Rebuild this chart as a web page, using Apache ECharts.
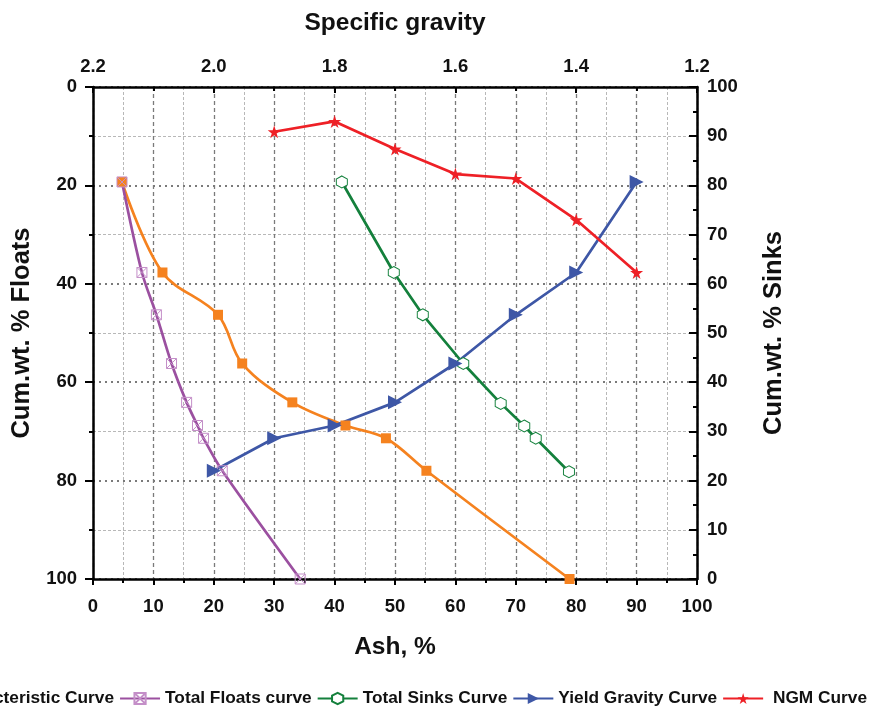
<!DOCTYPE html>
<html>
<head>
<meta charset="utf-8">
<script src="https://cdn.jsdelivr.net/npm/echarts@6/dist/echarts.min.js"></script>
<style>
  html, body { margin: 0; padding: 0; background: #fff; }
  #chart { width: 871px; height: 708px; }
</style>
</head>
<body>
<div id="chart"></div>
<script>
// 灰分 - 累计产率 数据
var charAsh = [4.8, 11.5, 20.7, 24.7, 33.0, 41.8, 48.5, 55.2, 78.9];
var charFloats = [19.3, 37.7, 46.3, 56.2, 64.1, 68.8, 71.4, 78.0, 100];

var floatsAsh = [4.8, 8.1, 10.5, 13.0, 15.5, 17.3, 18.3, 21.4, 34.3];
var floatsWt = [19.3, 37.7, 46.3, 56.2, 64.1, 68.8, 71.4, 78.0, 100];

var sinksAsh = [41.2, 49.8, 54.6, 61.3, 67.5, 71.4, 73.3, 78.8];
var sinksWt = [80.7, 62.3, 53.7, 43.8, 35.7, 31.1, 28.6, 21.8];

// 比重
var yieldSG = [2.0, 1.9, 1.8, 1.7, 1.6, 1.5, 1.4, 1.3];
var yieldWt = [78.0, 71.4, 68.8, 64.1, 56.2, 46.3, 37.7, 19.3];

var ngmSG = [1.9, 1.8, 1.7, 1.6, 1.5, 1.4, 1.3];
var ngmVal = [9.1, 7.0, 12.6, 17.7, 18.6, 27.0, 37.7];

function pairs(xs, ys) {
  return xs.map(function (x, i) { return [x, ys[i]]; });
}

var font = 'Liberation Sans, Arial, sans-serif';
var darkGrid = { color: '#7a7a7a', width: 1.3, type: [4, 3] };
var lightGrid = { color: '#b8b8b8', width: 1, type: [3, 2] };
var labelStyle = { color: '#111', fontSize: 18.5, fontWeight: 'bold', fontFamily: font };
var nameStyle = { color: '#111', fontSize: 24.5, fontWeight: 'bold', fontFamily: font };
var vNameStyle = { color: '#111', fontSize: 25.5, fontWeight: 'bold', fontFamily: font };
var axisLine = { show: true, onZero: false, lineStyle: { color: '#000', width: 2.5 } };

var starPath = 'path://M50,0 L61,35 L98,35 L68,57 L79,91 L50,70 L21,91 L32,57 L2,35 L39,35Z';
var hexPath = 'path://M5,0 L9.33,2.5 L9.33,7.5 L5,10 L0.67,7.5 L0.67,2.5Z';
var boxXPath = 'path://M0,0 L10,0 L10,10 L0,10 Z M0,0 L10,10 M10,0 L0,10';

var option = {
  animation: false,
  grid: { left: 93, right: 174, top: 87, bottom: 129 },
  legend: {
    left: -106,
    top: 685,
    width: 1200,
    itemWidth: 40,
    itemHeight: 14,
    itemGap: 5,
    textStyle: { color: '#111', fontSize: 17.3, fontWeight: 'bold', fontFamily: font }
  },
  xAxis: [{
    type: 'value',
    position: 'bottom',
    min: 0, max: 100, interval: 10,
    name: 'Ash, %',
    nameLocation: 'middle',
    nameGap: 56,
    nameTextStyle: nameStyle,
    axisLine: axisLine,
    axisTick: { show: true, length: 6, lineStyle: { color: '#000', width: 2 } },
    minorTick: { show: true, splitNumber: 2, length: 4, lineStyle: { color: '#000', width: 2 } },
    axisLabel: Object.assign({ margin: 18 }, labelStyle),
    splitLine: { show: true, lineStyle: darkGrid },
    minorSplitLine: { show: true, lineStyle: lightGrid }
  }, {
    type: 'value',
    position: 'top',
    min: 1.2, max: 2.2, interval: 0.2,
    inverse: true,
    name: 'Specific gravity',
    nameLocation: 'middle',
    nameGap: 51,
    nameTextStyle: nameStyle,
    axisLine: axisLine,
    axisTick: { show: true, inside: true, length: 6, lineStyle: { color: '#000', width: 2 } },
    minorTick: { show: true, splitNumber: 2, length: 4, lineStyle: { color: '#000', width: 2 } },
    axisLabel: Object.assign({ margin: 11, formatter: function (v) { return v.toFixed(1); } }, labelStyle),
    splitLine: { show: false }
  }],
  yAxis: [{
    type: 'value',
    position: 'left',
    min: 0, max: 100, interval: 20,
    inverse: true,
    name: 'Cum.wt. % Floats',
    nameLocation: 'middle',
    nameRotate: 90,
    nameGap: 55,
    nameTextStyle: vNameStyle,
    axisLine: axisLine,
    axisTick: { show: true, length: 8, lineStyle: { color: '#000', width: 2 } },
    minorTick: { show: true, splitNumber: 2, length: 4, lineStyle: { color: '#000', width: 2 } },
    axisLabel: Object.assign({ margin: 16 }, labelStyle),
    splitLine: { show: true, lineStyle: { color: '#7a7a7a', width: 2, type: [2, 4] } },
    minorSplitLine: { show: true, lineStyle: lightGrid }
  }, {
    type: 'value',
    position: 'right',
    min: 0, max: 100, interval: 10,
    name: 'Cum.wt. % Sinks',
    nameLocation: 'middle',
    nameRotate: 90,
    nameGap: 64,
    nameTextStyle: vNameStyle,
    axisLine: axisLine,
    axisTick: { show: true, inside: true, length: 8, lineStyle: { color: '#000', width: 2 } },
    minorTick: { show: true, splitNumber: 2, length: 4, lineStyle: { color: '#000', width: 2 } },
    axisLabel: Object.assign({ margin: 10 }, labelStyle),
    splitLine: { show: false }
  }],
  series: [{
    name: 'Characteristic Curve',
    type: 'line',
    xAxisIndex: 0, yAxisIndex: 0,
    smooth: 0.35,
    data: pairs(charAsh, charFloats),
    symbol: 'rect',
    symbolSize: 10,
    lineStyle: { color: '#f5821f', width: 2.7 },
    itemStyle: { color: '#f5821f' }
  }, {
    name: 'Total Floats curve',
    type: 'line',
    xAxisIndex: 0, yAxisIndex: 0,
    smooth: 0.3,
    data: pairs(floatsAsh, floatsWt),
    symbol: boxXPath,
    symbolSize: 10,
    lineStyle: { color: '#9b50a0', width: 2.7 },
    itemStyle: { color: 'rgba(0,0,0,0)', borderColor: '#c48fc8', borderWidth: 1 }
  }, {
    name: 'Total Sinks Curve',
    type: 'line',
    xAxisIndex: 0, yAxisIndex: 1,
    data: pairs(sinksAsh, sinksWt),
    symbol: hexPath,
    symbolSize: [11, 12],
    lineStyle: { color: '#14803c', width: 2.7 },
    itemStyle: { color: '#fff', borderColor: '#14803c', borderWidth: 1 }
  }, {
    name: 'Yield Gravity Curve',
    type: 'line',
    xAxisIndex: 1, yAxisIndex: 0,
    data: pairs(yieldSG, yieldWt),
    symbol: 'triangle',
    symbolRotate: -90,
    symbolSize: 14,
    lineStyle: { color: '#3e57a6', width: 2.7 },
    itemStyle: { color: '#3e57a6' }
  }, {
    name: ' NGM Curve',
    type: 'line',
    xAxisIndex: 1, yAxisIndex: 0,
    data: pairs(ngmSG, ngmVal),
    symbol: starPath,
    symbolSize: 13,
    lineStyle: { color: '#ee2026', width: 2.7 },
    itemStyle: { color: '#ee2026' }
  }]
};

var chart = echarts.init(document.getElementById('chart'));
chart.setOption(option);
</script>
</body>
</html>
